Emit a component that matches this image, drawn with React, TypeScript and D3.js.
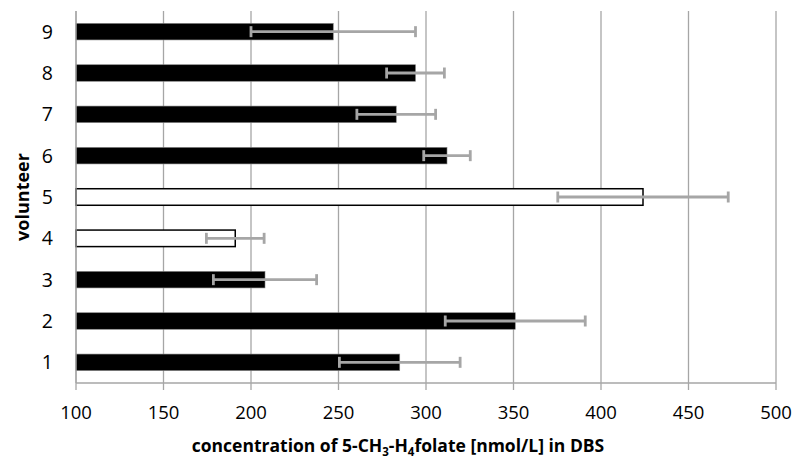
import React from "react";
import * as d3 from "d3";

const volunteers = ["1", "2", "3", "4", "5", "6", "7", "8", "9"];
const concentrations = [285, 351, 208, 191, 424, 312, 283, 294, 247];
const errors = [34.5, 40, 29.5, 16.5, 48.7, 13.3, 22.5, 16.5, 47];
const hollow = [false, false, false, true, true, false, false, false, false];
const xTicks = [100, 150, 200, 250, 300, 350, 400, 450, 500];

const W = 796;
const H = 461;
const margin = { left: 76, right: 20, top: 11, bottom: 78 };
const FONT = "'Open Sans', 'Liberation Sans', sans-serif";

export default function App() {
  const x = d3.scaleLinear().domain([100, 500]).range([margin.left, W - margin.right]);
  const y = d3
    .scaleBand<string>()
    .domain([...volunteers].reverse())
    .range([margin.top, H - margin.bottom])
    .paddingInner(0.6)
    .paddingOuter(0.3);
  const y0 = margin.top;
  const y1 = H - margin.bottom;
  const grid = "#a6a6a6";
  const errColor = "#a6a6a6";

  return (
    <svg
      width={W}
      height={H}
      style={{ position: "absolute", left: 0, top: 0, background: "#fff" }}
      fontFamily={FONT}
    >
      {xTicks.map((t) => (
        <line key={"g" + t} x1={x(t)} x2={x(t)} y1={y0} y2={y1 + 7} stroke={grid} strokeWidth={1.3} />
      ))}
      <line x1={x(100)} x2={x(500)} y1={y1} y2={y1} stroke={grid} strokeWidth={1.3} />
      {xTicks.map((t) => (
        <text key={"t" + t} x={x(t)} y={419} textAnchor="middle" fontSize={18.5} fill="#000">
          {t}
        </text>
      ))}
      {volunteers.map((v, i) => {
        const by = y(v)!;
        const bh = y.bandwidth();
        const cy = by + bh / 2;
        const val = concentrations[i];
        const e = errors[i];
        return (
          <g key={v}>
            <rect
              x={x(100)}
              y={by}
              width={x(val) - x(100)}
              height={bh}
              fill={hollow[i] ? "#fff" : "#000"}
              stroke={hollow[i] ? "#000" : "#808080"}
              strokeWidth={hollow[i] ? 1.5 : 0.6}
            />
            <line x1={x(val - e)} x2={x(val + e)} y1={cy} y2={cy} stroke={errColor} strokeWidth={2.8} />
            <line x1={x(val - e)} x2={x(val - e)} y1={cy - 5.5} y2={cy + 5.5} stroke={errColor} strokeWidth={2.8} />
            <line x1={x(val + e)} x2={x(val + e)} y1={cy - 5.5} y2={cy + 5.5} stroke={errColor} strokeWidth={2.8} />
            <text x={53} y={cy + 7} textAnchor="end" fontSize={19.5} fill="#000">
              {v}
            </text>
          </g>
        );
      })}
      <line x1={x(100)} x2={x(100)} y1={y0} y2={y1} stroke={grid} strokeWidth={1.3} />
      <text
        transform={`translate(29, ${(y0 + y1) / 2}) rotate(-90)`}
        textAnchor="middle"
        fontSize={18}
        fontWeight="bold"
        fill="#000"
      >
        volunteer
      </text>
      <text x={W / 2} y={452} textAnchor="middle" fontSize={17.5} fontWeight="bold" fill="#000">
        concentration of 5-CH
        <tspan fontSize={11.5} dy={4}>3</tspan>
        <tspan dy={-4}>-H</tspan>
        <tspan fontSize={11.5} dy={4}>4</tspan>
        <tspan dy={-4}>folate [nmol/L] in DBS</tspan>
      </text>
    </svg>
  );
}
